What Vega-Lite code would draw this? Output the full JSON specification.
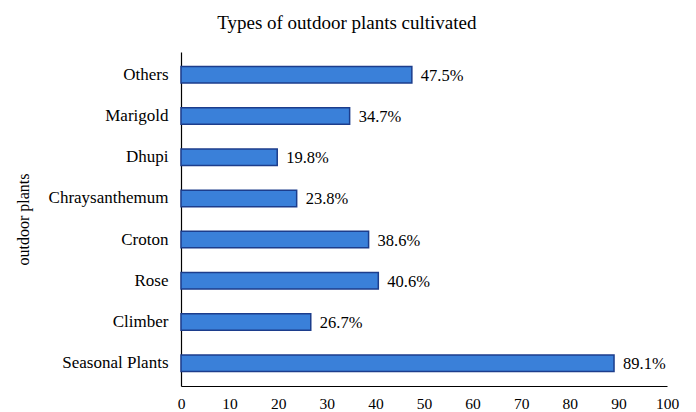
{
  "$schema": "https://vega.github.io/schema/vega-lite/v6.json",
  "width": 486,
  "height": 334,
  "autosize": {"type": "none"},
  "padding": {"left": 181, "top": 52, "right": 29, "bottom": 26},
  "background": "white",
  "title": {
    "text": "Types of outdoor plants cultivated",
    "font": "Liberation Serif, Times New Roman, serif",
    "fontSize": 19,
    "fontWeight": "normal",
    "color": "#000000",
    "anchor": "middle",
    "frame": "bounds",
    "offset": 19
  },
  "config": {
    "view": {"stroke": null},
    "font": "Liberation Serif, Times New Roman, serif",
    "axis": {
      "labelFont": "Liberation Serif, Times New Roman, serif",
      "titleFont": "Liberation Serif, Times New Roman, serif"
    },
    "text": {"font": "Liberation Serif, Times New Roman, serif"}
  },
  "data": {
    "values": [
      {"plant": "Others", "percent": 47.5, "label": "47.5%"},
      {"plant": "Marigold", "percent": 34.7, "label": "34.7%"},
      {"plant": "Dhupi", "percent": 19.8, "label": "19.8%"},
      {"plant": "Chraysanthemum", "percent": 23.8, "label": "23.8%"},
      {"plant": "Croton", "percent": 38.6, "label": "38.6%"},
      {"plant": "Rose", "percent": 40.6, "label": "40.6%"},
      {"plant": "Climber", "percent": 26.7, "label": "26.7%"},
      {"plant": "Seasonal Plants", "percent": 89.1, "label": "89.1%"}
    ]
  },
  "encoding": {
    "y": {
      "field": "plant",
      "type": "nominal",
      "sort": null,
      "scale": {"paddingInner": 0.6, "paddingOuter": 0.35},
      "axis": {
        "title": "outdoor plants",
        "titleFontSize": 16,
        "titleFontWeight": "normal",
        "titleColor": "#000000",
        "titlePadding": 17,
        "labelFontSize": 17,
        "labelFontWeight": "normal",
        "labelColor": "#000000",
        "labelPadding": 13,
        "ticks": false,
        "domainColor": "#000000",
        "domainWidth": 1.2,
        "grid": false
      }
    },
    "x": {
      "field": "percent",
      "type": "quantitative",
      "scale": {"domain": [0, 100], "nice": false},
      "axis": {
        "title": null,
        "values": [0, 10, 20, 30, 40, 50, 60, 70, 80, 90, 100],
        "labelFontSize": 15.5,
        "labelFontWeight": "normal",
        "labelColor": "#000000",
        "labelPadding": 10,
        "labelFlush": false,
        "ticks": false,
        "domainColor": "#000000",
        "domainWidth": 1.2,
        "grid": false
      }
    }
  },
  "layer": [
    {
      "mark": {
        "type": "bar",
        "fill": "#3a80d9",
        "stroke": "#1c3d8c",
        "strokeWidth": 1.5
      }
    },
    {
      "mark": {
        "type": "text",
        "align": "left",
        "baseline": "middle",
        "dx": 9,
        "dy": 1,
        "fontSize": 16.5,
        "color": "#000000"
      },
      "encoding": {
        "text": {"field": "label", "type": "nominal"}
      }
    }
  ]
}
